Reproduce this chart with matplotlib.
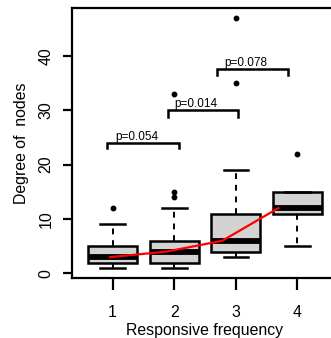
import matplotlib
matplotlib.use("Agg")
import matplotlib.pyplot as plt

plt.rcParams['font.family'] = ['Liberation Sans', 'DejaVu Sans']

# data
groups = [1, 2, 3, 4]
whislo = [1, 1, 3, 5]
q1 = [2, 2, 4, 11]
med = [3, 4, 6, 12]
q3 = [5, 6, 11, 15]
whishi = [9, 12, 19, 15]
fliers = [[12], [14, 15, 33], [35, 47], [22]]

trend_x = [0.96, 1.87, 2.78, 3.69]
trend_y = [3, 4, 6, 12]

brackets = [(0.91, 2.07, 24, 23), (1.90, 3.03, 30, 28.8), (2.70, 3.84, 37.5, 36.4)]
p_labels = ["p=0.054", "p=0.014", "p=0.078"]
p_text_x = [1.04, 2.0, 2.82]

xlabel = "Responsive frequency"
ylabel = "Degree of  nodes"
yticks = [0, 10, 20, 30, 40]

fig = plt.figure(figsize=(3.31, 3.38), dpi=100)
ax = fig.add_axes([72/331, 1-278/338, (338.1-72)/331, (278-7.6)/338])

stats = []
for i in range(len(groups)):
    stats.append(dict(med=med[i], q1=q1[i], q3=q3[i], whislo=whislo[i],
                      whishi=whishi[i], fliers=fliers[i]))

ax.bxp(stats, positions=groups, widths=0.8, patch_artist=True,
       boxprops=dict(facecolor='#d3d3d3', edgecolor='black', linewidth=1.8),
       medianprops=dict(color='black', linewidth=4.2, solid_capstyle='butt'),
       whiskerprops=dict(color='black', linewidth=1.4, linestyle=(0, (3, 3))),
       capprops=dict(color='black', linewidth=1.8),
       capwidths=0.4,
       flierprops=dict(marker='o', markerfacecolor='black', markeredgecolor='black',
                       markersize=3.2, linestyle='none'),
       zorder=2)

ax.plot(trend_x, trend_y, color='red', linewidth=1.6, zorder=3)

for (x0, x1, ytop, ylow), lab, tx in zip(brackets, p_labels, p_text_x):
    ax.plot([x0, x0, x1, x1], [ylow, ytop, ytop, ylow], color='black',
            linewidth=1.8, solid_joinstyle='miter', zorder=3)
    ax.text(tx, ytop + 0.55, lab, fontsize=8.5, ha='left', va='baseline')

ax.set_xlim(0.34, 4.66)
ax.set_ylim(-0.84, 48.84)
ax.set_xticks(groups)
ax.set_xticklabels([str(g) for g in groups])
ax.set_yticks(yticks)
ax.set_yticklabels([str(t) for t in yticks], rotation=90, va='center')
ax.tick_params(axis='x', length=8.5, width=1.6, labelsize=11.4, pad=11)
ax.tick_params(axis='y', length=6.5, width=1.6, labelsize=11.4, pad=7)
for s in ax.spines.values():
    s.set_linewidth(1.6)
ax.set_xlabel(xlabel, fontsize=11.4, labelpad=2)
ax.set_ylabel(ylabel, fontsize=11.4, labelpad=7)

fig.savefig("out.png", dpi=100)
